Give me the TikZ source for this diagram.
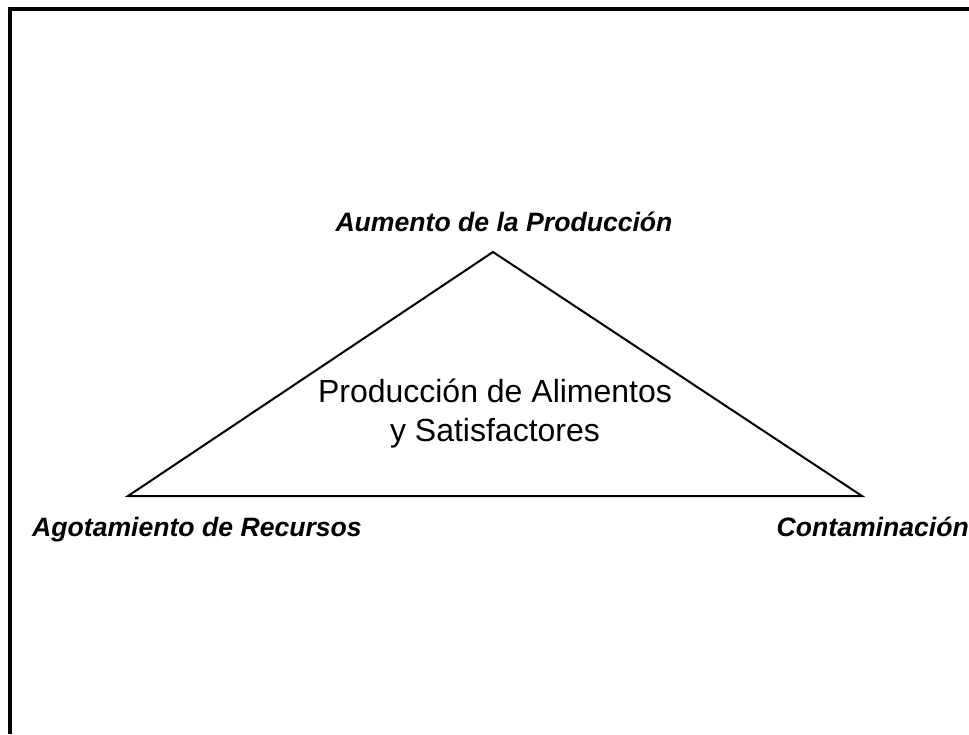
\documentclass[tikz,border=0pt]{standalone}
\usepackage{fontspec}
\setmainfont{Liberation Sans}
\usepackage{tikz}
\usetikzlibrary{positioning}
\tikzset{corner/.style={font=\fontsize{26.6}{32}\selectfont\bfseries\itshape, inner sep=0pt},
         centre/.style={font=\fontsize{32}{39}\selectfont, align=center, inner sep=0pt},
         side/.style={draw, line width=2pt, line join=miter}}

\begin{document}
\begin{tikzpicture}[x=1pt,y=-1pt]
    \useasboundingbox (0,0) rectangle (969,734);
    \draw[line width=4pt] (10,734) -- (10,9) -- (969,9);

    \coordinate (T) at (493,252); \coordinate (L) at (128,496);
    \coordinate (R) at (862,496);

    \node[corner] (aumento) at (504,222) {Aumento de la Producción};
    \node[corner] (agota) at (197,530) {Agotamiento de Recursos};
    \node[corner, anchor=east] (conta) at (969,527) {Contaminación};

    \node[centre] (prod) at (495,414) {Producción de Alimentos\\y Satisfactores};

    \path[side] (T) -- (L) -- (R) -- cycle;

  \end{tikzpicture}
\end{document}
